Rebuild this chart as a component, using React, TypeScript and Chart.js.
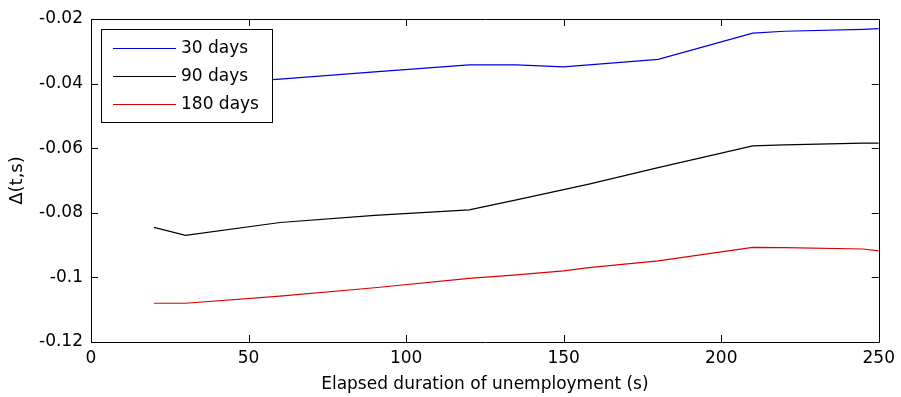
import React, { useEffect, useRef } from "react";
import { Chart, registerables } from "chart.js";

Chart.register(...registerables);

const xValues = [20, 30, 60, 90, 120, 135, 150, 158, 180, 210, 220, 245, 250];
const seriesLabels = ["30 days", "90 days", "180 days"];
const days30 = [-0.041, -0.0405, -0.0386, -0.0364, -0.0342, -0.0342, -0.0348, -0.0342, -0.0325, -0.0244, -0.0238, -0.0232, -0.023];
const days90 = [-0.0845, -0.087, -0.083, -0.0808, -0.0791, -0.076, -0.0728, -0.0711, -0.066, -0.0593, -0.059, -0.0584, -0.0584];
const days180 = [-0.108, -0.108, -0.1058, -0.1032, -0.1003, -0.0992, -0.098, -0.097, -0.0949, -0.0907, -0.0908, -0.0912, -0.0918];
const seriesColors = ["#0000e0", "#000000", "#dd0000"];
const xTicks = [0, 50, 100, 150, 200, 250];
const yTicks = [-0.12, -0.1, -0.08, -0.06, -0.04, -0.02];

const FONT = "'DejaVu Sans', sans-serif";

const boxPlugin = {
  id: "matlabBox",
  afterDatasetsDraw(chart: any) {
    const { ctx, chartArea } = chart;
    const { left, right, top, bottom } = chartArea;
    const xs = chart.scales.x;
    const ys = chart.scales.y;
    ctx.save();
    ctx.strokeStyle = "#000";
    ctx.lineWidth = 1;
    ctx.beginPath();
    ctx.rect(Math.round(left) + 0.5, Math.round(top) + 0.5, Math.round(right - left), Math.round(bottom - top));
    ctx.stroke();
    const tl = 7;
    ctx.beginPath();
    xTicks.forEach((v) => {
      const px = Math.round(xs.getPixelForValue(v)) + 0.5;
      ctx.moveTo(px, bottom);
      ctx.lineTo(px, bottom - tl);
      ctx.moveTo(px, top);
      ctx.lineTo(px, top + tl);
    });
    yTicks.forEach((v) => {
      const py = Math.round(ys.getPixelForValue(v)) + 0.5;
      ctx.moveTo(left, py);
      ctx.lineTo(left + tl, py);
      ctx.moveTo(right, py);
      ctx.lineTo(right - tl, py);
    });
    ctx.stroke();

    // legend
    const lx = 101.5, ly = 29.5, lw = 171, lh = 93;
    ctx.fillStyle = "#fff";
    ctx.fillRect(lx, ly, lw, lh);
    ctx.strokeRect(lx, ly, lw, lh);
    const rows = [48, 76, 104];
    ctx.font = `17px ${FONT}`;
    ctx.textBaseline = "middle";
    ctx.textAlign = "left";
    seriesLabels.forEach((lab, i) => {
      ctx.strokeStyle = seriesColors[i];
      ctx.beginPath();
      ctx.moveTo(113, rows[i] + 0.5);
      ctx.lineTo(176, rows[i] + 0.5);
      ctx.stroke();
      ctx.fillStyle = "#000";
      ctx.fillText(lab, 181, rows[i] + 1);
    });
    ctx.restore();
  },
};

export default function App() {
  const ref = useRef<HTMLCanvasElement>(null);
  useEffect(() => {
    document.body.style.margin = "0";
    const data = [days30, days90, days180];
    const chart = new Chart(ref.current!, {
      type: "line",
      data: {
        datasets: seriesLabels.map((lab, i) => ({
          label: lab,
          data: xValues.map((x, j) => ({ x, y: data[i][j] })),
          borderColor: seriesColors[i],
          borderWidth: 1.2,
          pointRadius: 0,
          tension: 0,
          fill: false,
        })),
      },
      options: {
        animation: false,
        responsive: false,
        events: [],
        layout: { padding: { top: 19, right: 20, left: 0, bottom: 0 } },
        plugins: { legend: { display: false }, tooltip: { enabled: false } },
        scales: {
          x: {
            type: "linear",
            min: 0,
            max: 250,
            afterFit: (s: any) => { s.height = 55; },
            afterBuildTicks: (s: any) => { s.ticks = xTicks.map((v) => ({ value: v })); },
            grid: { display: false, drawTicks: false },
            border: { display: false },
            ticks: { color: "#000", font: { family: FONT, size: 17 }, padding: 6, maxRotation: 0 },
            title: {
              display: true,
              text: "Elapsed duration of unemployment (s)",
              color: "#000",
              font: { family: FONT, size: 17 },
              padding: { top: 0, bottom: 2 },
            },
          },
          y: {
            type: "linear",
            min: -0.12,
            max: -0.02,
            afterFit: (s: any) => { s.width = 91; },
            afterBuildTicks: (s: any) => { s.ticks = yTicks.map((v) => ({ value: v })); },
            grid: { display: false, drawTicks: false },
            border: { display: false },
            ticks: {
              color: "#000",
              font: { family: FONT, size: 17 },
              padding: 8,
              callback: (v: any) => String(Number(Number(v).toFixed(2))),
            },
            title: {
              display: true,
              text: "Δ(t,s)",
              color: "#000",
              font: { family: FONT, size: 18 },
              padding: { top: 7, bottom: 0 },
            },
          },
        },
      },
      plugins: [boxPlugin],
    });
    return () => chart.destroy();
  }, []);
  return (
    <div style={{ position: "fixed", left: 0, top: 0, width: 901, height: 397, background: "#fff" }}>
      <canvas ref={ref} width={901} height={397} style={{ display: "block" }} />
    </div>
  );
}
